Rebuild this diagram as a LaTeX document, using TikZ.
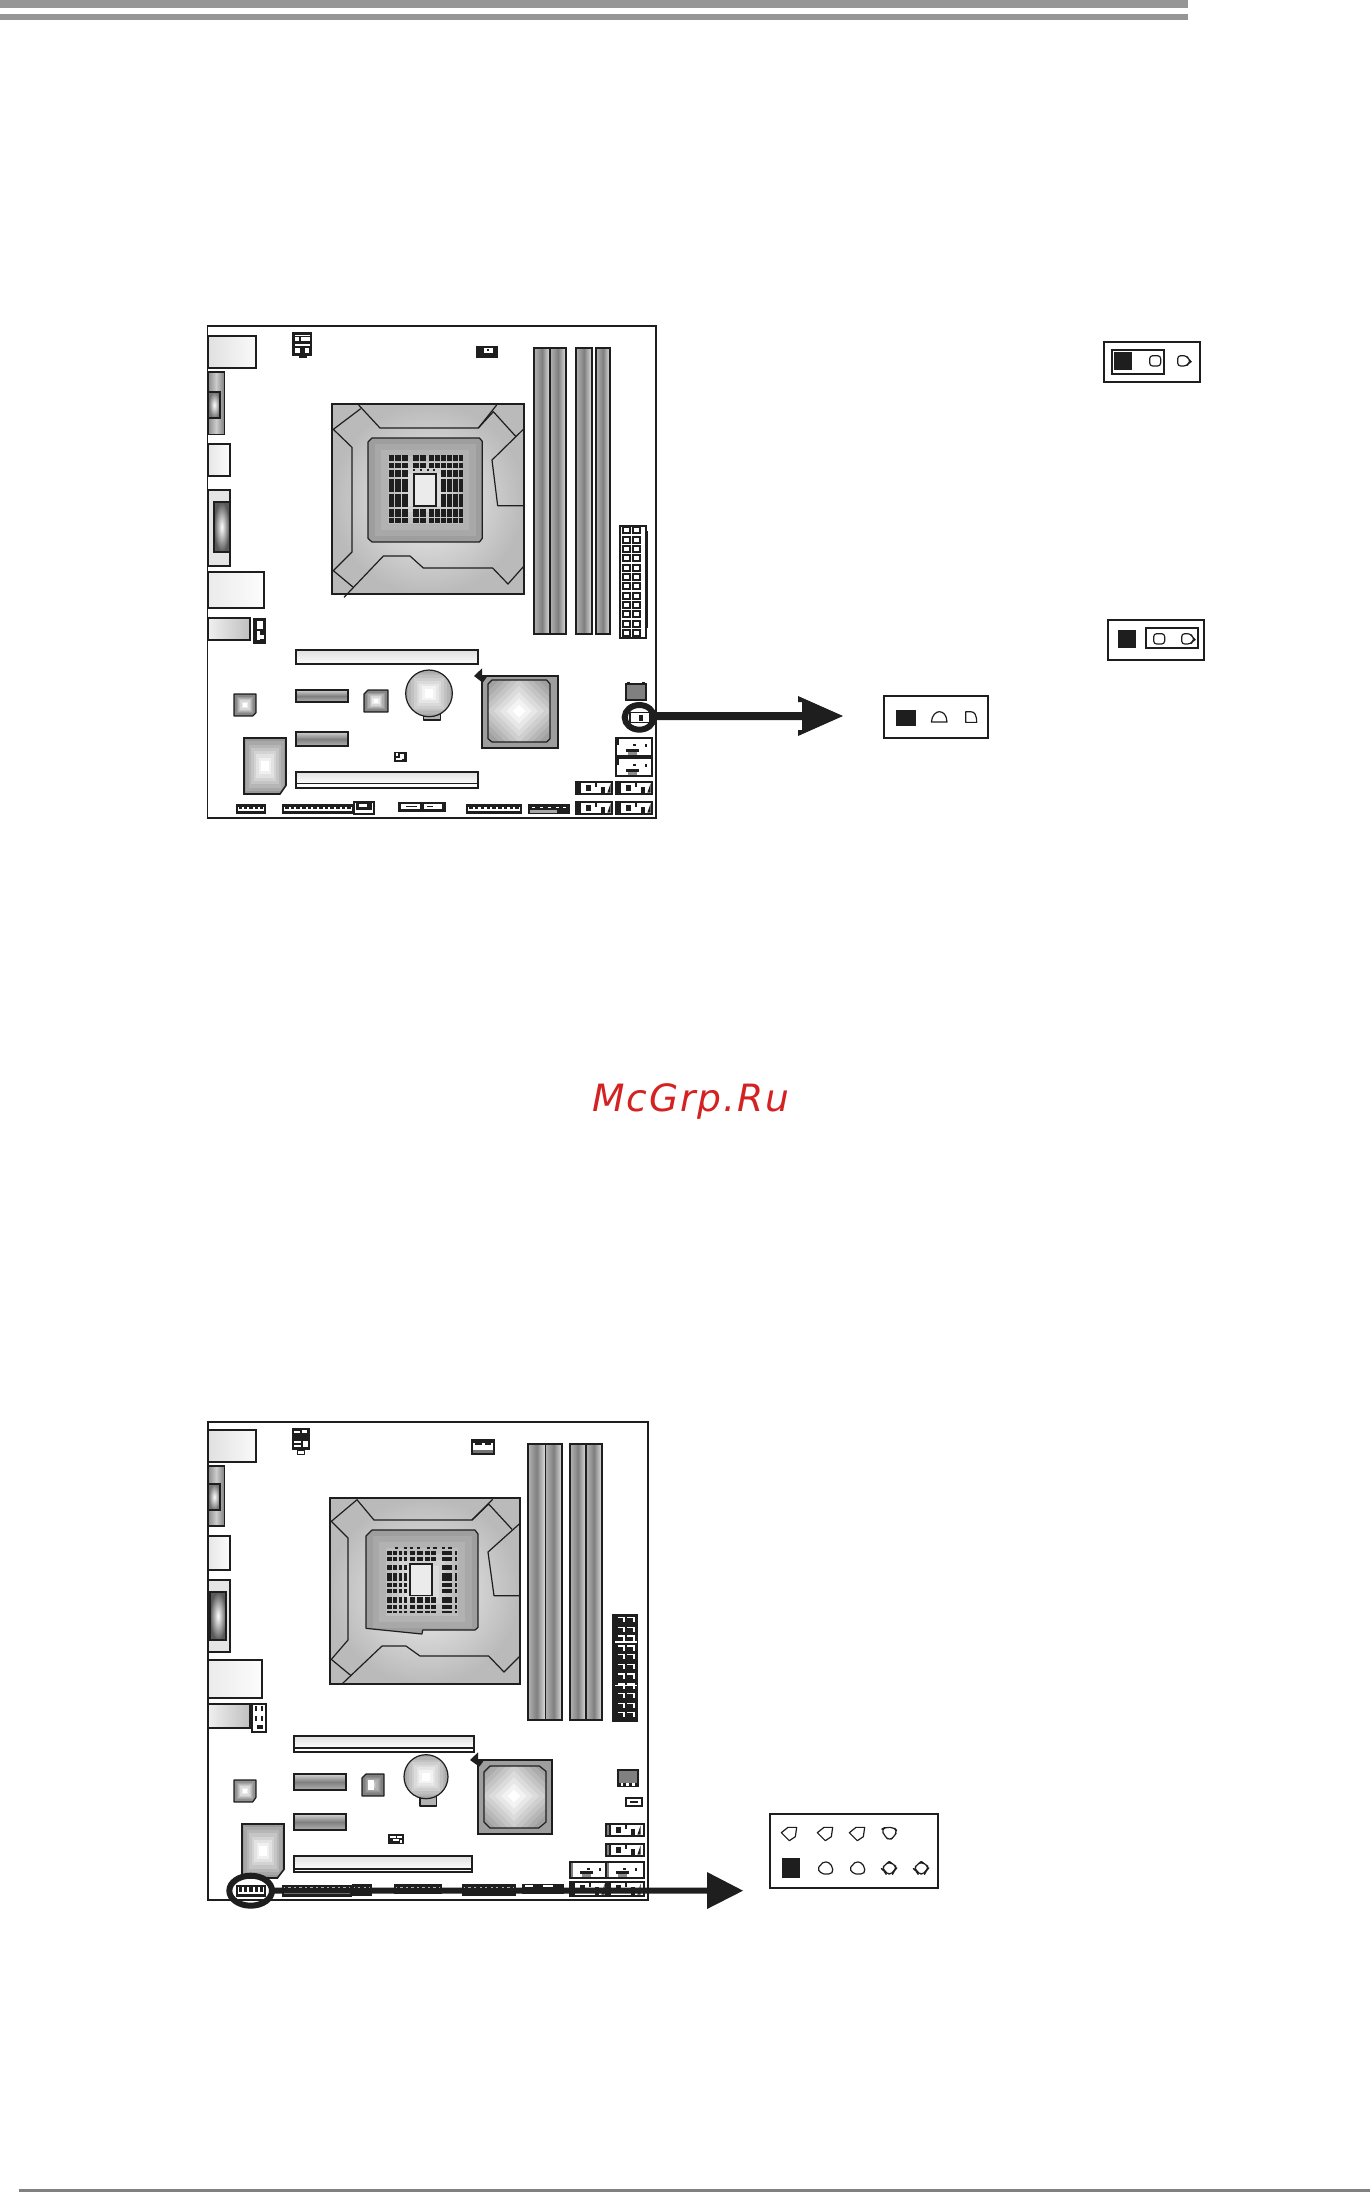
\documentclass[tikz,border=0pt]{standalone}
\usepackage{fontspec}
\newfontfamily\wmfont[LetterSpace=5]{DejaVu Sans}
\definecolor{ink}{HTML}{1E1E1E}
\definecolor{barA}{HTML}{969696}
\definecolor{barB}{HTML}{808080}
\definecolor{wmred}{HTML}{D42222}
\tikzset{
  ol/.style={draw=ink,line width=.8pt,line join=miter},
  thin ol/.style={draw=ink,line width=.6pt,line join=round},
  fine/.style={draw=ink,line width=.5pt,line join=round},
  zoomA/.style={shift={(200,320)},x=.16667pt,y=-.16667pt},
  zoomB/.style={shift={(200,1410)},x=.16667pt,y=-.16667pt},
  zoomC/.style={shift={(860,330)},x=.16667pt,y=-.16667pt},
  zoomD/.style={shift={(740,1790)},x=.16667pt,y=-.16667pt},
  ring/.style={draw=ink,line width=3pt,fill=none},
  shaft/.style={draw=ink,line width=4pt},
  shaftB/.style={draw=ink,line width=3pt},
  head/.style={fill=ink},
  hshade/.style={left color=black!#1,right color=black!12,middle color=black!50},
  ioshade/.style={left color=black!45,right color=black!50,middle color=black!20},
  slotshade/.style={top color=black!18,bottom color=black!30,middle color=black!50},
}
% concentric square gradient
\newcommand{\cgrad}[6]{%
  \foreach \i in {0,...,7}{%
    \pgfmathsetmacro\fr{\i/8.6}%
    \pgfmathsetmacro\gl{#5+(#6-#5)*\i/7}%
    \pgfmathsetmacro\xa{#1+(#3-#1)/2*\fr}%
    \pgfmathsetmacro\xb{#3-(#3-#1)/2*\fr}%
    \pgfmathsetmacro\ya{#2+(#4-#2)/2*\fr}%
    \pgfmathsetmacro\yb{#4-(#4-#2)/2*\fr}%
    \fill[black!\gl] (\xa,\ya) rectangle (\xb,\yb);
  }%
}
% concentric diamond gradient
\newcommand{\dgrad}[5]{%
  \foreach \i in {0,...,9}{%
    \pgfmathsetmacro\rr{#3*(1-\i/10)}%
    \pgfmathsetmacro\gl{#4+(#5-#4)*\i/9}%
    \fill[black!\gl] (#1-\rr,#2) -- (#1,#2-\rr) -- (#1+\rr,#2) -- (#1,#2+\rr) -- cycle;
  }%
}
% dark header with a band of white and pins
\newcommand{\hdr}[5]{%
  \fill[ink] (#1,#2) rectangle (#3,#4);
  \fill[white] (#1+6,#2+8) rectangle (#3-6,#4-8);
  \pgfmathsetmacro\stp{(#3-#1-12)/#5}%
  \foreach \k in {1,...,#5}{%
    \pgfmathsetmacro\px{#1+6+\stp*(\k-.8)}%
    \fill[ink] (\px,#2+8) rectangle (\px+\stp*.6,#4-14);
  }%
}
% white connector with marks
\newcommand{\sata}[4]{%
  \fill[white] (#1,#2) rectangle (#3,#4);
  \draw[ol] (#1,#2) rectangle (#3,#4);
  \fill[black!45] (#1+36,#4-12) rectangle (#1+64,#4-3);
  \fill[ink] (#1+30,#4-20) rectangle (#1+70,#4-13);
  \fill[ink] (#1,#2+4) rectangle (#1+8,#2+22);
  \fill[ink] (#1+50,#2+18) rectangle (#1+60,#2+24);
  \fill[ink] (#1+88,#2+18) rectangle (#1+94,#2+26);
}
\newcommand{\usbh}[4]{%
  \fill[white] (#1,#2) rectangle (#3,#4);
  \draw[ol] (#1,#2) rectangle (#3,#4);
  \fill[ink] (#1+4,#2+4) rectangle (#1+16,#4-4);
  \fill[ink] (#1+30,#2+10) rectangle (#1+44,#4-8);
  \fill[ink] (#1+56,#2+4) rectangle (#1+62,#2+14);
  \fill[ink] (#1+74,#2+14) rectangle (#1+86,#4-4);
  \fill[ink] (#1+94,#4-4) -- (#1+104,#2+4) -- (#1+104,#4-4) -- cycle;
}
\newcommand{\grayflag}[4]{\fill[black!50] (#1,#2) rectangle (#1+10,#4); \draw[ol] (#1,#2) rectangle (#3,#4);}
% DIMM slot
\newcommand{\dimm}[4]{%
  \shade[hshade=30] (#1,#2) rectangle (#3,#4);
  \draw[ol] (#1,#2) rectangle (#3,#4);
}
% ATX row of square pins
\newcommand{\atxcell}[2]{%
  \draw[ink,line width=1pt,fill=white] (#1,#2) rectangle (#1+20,#2+18);
}
\begin{document}
\begin{tikzpicture}[x=.5pt,y=-.5pt]
\useasboundingbox (0,0) rectangle (1370,2192);
\fill[white] (0,0) rectangle (1370,2192);

% page rules
\fill[barA] (0,0) rectangle (1188,8);
\fill[barA] (0,14) rectangle (1188,20);
\fill[barB] (19,2189) rectangle (1370,2192);

% ============ BOARD 1 ============
\begin{scope}[zoomA]
\draw[ol] (22,18) rectangle (1368,1494);
% back panel
\shade[left color=black!12,right color=black!2] (24,48) rectangle (168,144);
\draw[ol] (24,48) rectangle (168,144);
\shade[ioshade] (24,156) rectangle (73,344);
\draw[ol] (24,156) rectangle (73,344);
\shade[inner color=white,outer color=black!55] (26,216) rectangle (60,294);
\draw[ol] (24,216) rectangle (60,294);
\shade[left color=black!10,right color=black!1] (24,372) rectangle (90,468);
\draw[ol] (24,372) rectangle (90,468);
\fill[black!10] (24,510) rectangle (90,738);
\draw[ol] (24,510) rectangle (90,738);
\shade[inner color=white,outer color=black!65] (42,546) rectangle (88,696);
\draw[ol] (42,546) rectangle (88,696);
\shade[left color=black!8,right color=black!1] (24,756) rectangle (192,864);
\draw[ol] (24,756) rectangle (192,864);
\shade[left color=black!6,right color=black!25] (24,894) rectangle (150,960);
\draw[ol] (24,894) rectangle (150,960);
% small jumper next to panel
\fill[ink] (160,894) rectangle (198,972);
\fill[white] (172,902) rectangle (190,926);
\fill[white] (172,932) rectangle (180,960);
\fill[white] (180,944) rectangle (192,956);
% top headers
\fill[ink] (276,36) rectangle (336,108);
\fill[white] (284,44) rectangle (330,48);
\fill[white] (284,52) rectangle (296,64);
\fill[white] (304,52) rectangle (330,64);
\fill[white] (284,72) rectangle (330,78);
\fill[white] (286,84) rectangle (300,100);
\fill[white] (316,84) rectangle (328,100);
\fill[ink] (298,108) rectangle (320,114);
\fill[ink] (828,78) rectangle (894,114);
\fill[white] (852,84) rectangle (878,98);
\fill[ink] (860,86) rectangle (866,92);
% socket
\shade[inner color=black!6,outer color=black!27] (396,252) rectangle (972,822);
\begin{scope}
\clip (516,354) -- (838,354) -- (847,364) -- (847,655) -- (838,666) -- (516,666) -- (504,655) -- (504,366) -- cycle;
\cgrad{504}{354}{847}{666}{38}{10}
\end{scope}
\draw[ol] (396,252) rectangle (972,822);
\draw[thin ol] (476,255) -- (540,324) -- (835,324) -- (890,255);
\draw[thin ol] (835,324) -- (880,275) -- (948,350);
\draw[thin ol] (482,266) -- (400,328) -- (456,382) -- (456,696) -- (400,752) -- (460,802);
\draw[thin ol] (432,832) -- (550,708) -- (630,708) -- (670,744) -- (878,744) -- (924,792) -- (970,740);
\draw[thin ol] (972,326) -- (876,420) -- (893,557) -- (972,557);
\draw[thin ol] (516,354) -- (838,354) -- (847,364) -- (847,655) -- (838,666) -- (516,666) -- (504,655) -- (504,366) -- cycle;
% pins
\foreach \ya/\yb in {405/424,428/444,568/592,595/610}{
  \foreach \xa/\xb in {566/583,586/602,605/624,638/656,660/677,687/702,705/721,724/739,742/757,760/774,776/790}{
    \fill[ink] (\xa,\ya) rectangle (\xb,\yb);
  }
}
\foreach \ya/\yb in {450/470,476/517,523/560}{
  \foreach \xa/\xb in {566/583,586/602,605/624,724/739,742/757,760/774,778/790}{
    \fill[ink] (\xa,\ya) rectangle (\xb,\yb);
  }
}
\foreach \xa in {640,660,680,700}{\fill[ink] (\xa,447) rectangle (\xa+6,452);}
\fill[black!8] (642,462) rectangle (708,558);
\draw[ol] (642,462) rectangle (708,558);
% DIMM
\dimm{1002}{84}{1050}{942}
\dimm{1050}{84}{1098}{942}
\dimm{1128}{84}{1176}{942}
\dimm{1188}{84}{1230}{942}
% ATX
\fill[ink] (1339,632) rectangle (1345,924);
\fill[white] (1260,618) rectangle (1338,954);
\draw[ol] (1260,618) rectangle (1338,954);
\foreach \yy in {622,650,678,706,734,762,790,818,846,874,902,930}{
  \atxcell{1270}{\yy}
  \atxcell{1300}{\yy}
}
% expansion slots
\shade[top color=black!12,bottom color=black!1] (288,990) rectangle (834,1032);
\draw[ol] (288,990) rectangle (834,1032);
\shade[slotshade] (288,1110) rectangle (444,1146);
\draw[ol] (288,1110) rectangle (444,1146);
\shade[slotshade] (288,1236) rectangle (444,1278);
\draw[ol] (288,1236) rectangle (444,1278);
\shade[top color=black!12,bottom color=black!1] (288,1356) rectangle (834,1390);
\draw[ol] (288,1356) rectangle (834,1404);
\draw[ol] (288,1390) -- (834,1390);
% small chips
\begin{scope}
\clip (102,1122) -- (168,1122) -- (168,1178) -- (158,1188) -- (102,1188) -- cycle;
\cgrad{102}{1122}{168}{1188}{55}{0}
\end{scope}
\draw[thin ol] (102,1122) -- (168,1122) -- (168,1178) -- (158,1188) -- (102,1188) -- cycle;
\begin{scope}
\clip (504,1110) -- (564,1110) -- (564,1176) -- (492,1176) -- (492,1122) -- cycle;
\cgrad{492}{1110}{564}{1176}{55}{0}
\end{scope}
\draw[thin ol] (504,1110) -- (564,1110) -- (564,1176) -- (492,1176) -- (492,1122) -- cycle;
% battery
\fill[black!30] (670,1180) rectangle (722,1200);
\draw[thin ol] (670,1180) rectangle (722,1200);
\begin{scope}
\clip (687,1120) circle (70);
\cgrad{617}{1050}{757}{1190}{34}{0}
\end{scope}
\draw[thin ol] (687,1120) circle (70);
% chipset
\fill[black!38] (846,1068) rectangle (1074,1284);
\begin{scope}
\clip (876,1080) -- (1040,1080) -- (1050,1092) -- (1050,1256) -- (1040,1266) -- (876,1266) -- (864,1256) -- (864,1092) -- cycle;
\dgrad{957}{1173}{190}{42}{0}
\end{scope}
\draw[ol] (846,1068) rectangle (1074,1284);
\draw[thin ol] (876,1080) -- (1040,1080) -- (1050,1092) -- (1050,1256) -- (1040,1266) -- (876,1266) -- (864,1256) -- (864,1092) -- cycle;
\fill[ink] (822,1068) -- (846,1045) -- (846,1068) -- (860,1072) -- (848,1088) -- cycle;
% super IO
\begin{scope}
\clip (132,1254) -- (258,1254) -- (258,1396) -- (240,1422) -- (132,1422) -- cycle;
\cgrad{132}{1254}{258}{1422}{40}{0}
\end{scope}
\draw[ol] (132,1254) -- (258,1254) -- (258,1396) -- (240,1422) -- (132,1422) -- cycle;
% small parts
\fill[black!50] (1278,1092) rectangle (1338,1140);
\draw[ol] (1278,1092) rectangle (1338,1140);
\fill[ink] (1282,1087) rectangle (1290,1094);
\fill[ink] (1326,1087) rectangle (1334,1094);
\fill[ink] (582,1296) rectangle (620,1326);
\fill[white] (588,1300) rectangle (594,1308);
\fill[white] (600,1302) rectangle (612,1318);
\fill[white] (588,1314) rectangle (606,1320);
% right connectors
\sata{1248}{1254}{1356}{1308}
\sata{1248}{1314}{1356}{1368}
\usbh{1128}{1386}{1236}{1422}
\usbh{1248}{1386}{1356}{1422}
\usbh{1128}{1446}{1236}{1482}
\usbh{1248}{1446}{1356}{1482}
% bottom row
\hdr{108}{1452}{198}{1482}{5}
\hdr{246}{1452}{462}{1482}{12}
\fill[white] (462,1446) rectangle (522,1482);
\draw[ol] (462,1446) rectangle (522,1482);
\fill[ink] (468,1450) rectangle (516,1470);
\fill[white] (476,1452) rectangle (500,1462);
\fill[ink] (594,1446) rectangle (738,1476);
\fill[white] (604,1452) rectangle (660,1468);
\fill[ink] (618,1458) rectangle (650,1462);
\fill[white] (672,1452) rectangle (726,1468);
\fill[ink] (680,1458) rectangle (700,1462);
\hdr{798}{1452}{966}{1482}{9}
\fill[ink] (984,1452) rectangle (1110,1482);
\fill[black!35] (990,1470) rectangle (1070,1478);
\foreach \xa in {996,1020,1044,1068,1090}{\fill[white] (\xa,1460) rectangle (\xa+8,1465);}
% ringed jumper
\fill[white] (1290,1178) rectangle (1350,1208);
\draw[ol] (1290,1178) rectangle (1350,1208);
\fill[ink] (1316,1186) rectangle (1330,1204);
\draw[ring] (1318,1192) ellipse (44 and 37);
\coordinate (ringA) at (1360,1188);
\end{scope}

% ============ BOARD 2 ============
\begin{scope}[zoomB]
\draw[ol] (24,36) rectangle (1344,1470);
\shade[left color=black!12,right color=black!2] (24,60) rectangle (168,156);
\draw[ol] (24,60) rectangle (168,156);
\shade[ioshade] (24,168) rectangle (73,348);
\draw[ol] (24,168) rectangle (73,348);
\shade[inner color=white,outer color=black!55] (26,222) rectangle (60,300);
\draw[ol] (24,222) rectangle (60,300);
\shade[left color=black!10,right color=black!1] (24,378) rectangle (90,480);
\draw[ol] (24,378) rectangle (90,480);
\fill[black!10] (24,510) rectangle (90,726);
\draw[ol] (24,510) rectangle (90,726);
\shade[inner color=white,outer color=black!65] (30,546) rectangle (78,690);
\draw[ol] (30,546) rectangle (78,690);
\shade[left color=black!8,right color=black!1] (24,750) rectangle (186,864);
\draw[ol] (24,750) rectangle (186,864);
\shade[left color=black!6,right color=black!25] (24,882) rectangle (150,954);
\draw[ol] (24,882) rectangle (150,954);
\fill[white] (156,882) rectangle (198,966);
\draw[ol] (156,882) rectangle (198,966);
\fill[ink] (166,888) rectangle (172,902);
\fill[ink] (184,888) rectangle (190,902);
\fill[ink] (166,918) rectangle (172,932);
\fill[ink] (184,918) rectangle (190,932);
\fill[ink] (172,946) rectangle (190,958);
% top headers
\fill[ink] (276,54) rectangle (330,120);
\draw[fine] (292,120) rectangle (314,132);
\fill[white] (282,64) rectangle (300,70);
\fill[white] (306,60) rectangle (322,70);
\fill[white] (282,94) rectangle (302,100);
\fill[white] (308,94) rectangle (324,112);
\fill[white] (282,106) rectangle (302,112);
\fill[white] (816,90) rectangle (882,132);
\draw[ol] (816,90) rectangle (882,132);
\fill[ink] (820,94) rectangle (878,98);
\fill[ink] (826,100) rectangle (846,106);
\fill[ink] (854,100) rectangle (874,106);
\fill[black!55] (820,120) rectangle (878,130);
% socket
\shade[inner color=black!6,outer color=black!27] (390,264) rectangle (960,822);
\begin{scope}
\clip (516,360) -- (825,360) -- (834,372) -- (834,652) -- (825,660) -- (668,660) -- (666,672) -- (498,655) -- (498,378) -- cycle;
\cgrad{498}{360}{834}{672}{38}{10}
\end{scope}
\draw[ol] (390,264) rectangle (960,822);
\draw[thin ol] (470,268) -- (522,330) -- (816,330) -- (878,268);
\draw[thin ol] (816,330) -- (866,282) -- (936,358);
\draw[thin ol] (470,270) -- (394,334) -- (444,384) -- (444,690) -- (394,748) -- (452,796);
\draw[thin ol] (428,820) -- (546,708) -- (618,708) -- (660,738) -- (866,738) -- (912,786) -- (958,740);
\draw[thin ol] (960,340) -- (864,426) -- (882,557) -- (960,557);
\draw[thin ol] (516,360) -- (825,360) -- (834,372) -- (834,652) -- (825,660) -- (668,660) -- (666,672) -- (498,655) -- (498,378) -- cycle;
% pins
\foreach \ya/\yb in {422/434,442/452,560/578,584/596,602/608}{
  \foreach \xa/\xb in {562/575,580/592,598/606,612/620,630/645,650/668,676/690,694/708,725/740,742/757,765/771}{
    \fill[ink] (\xa,\ya) rectangle (\xb,\yb);
  }
}
\foreach \ya/\yb in {464/480,490/512,520/532,538/550}{
  \foreach \xa/\xb in {562/575,580/592,598/606,612/620,725/740,742/757,765/771}{
    \fill[ink] (\xa,\ya) rectangle (\xb,\yb);
  }
}
\foreach \xa in {585,612,630,650,680,700,725,745}{\fill[ink] (\xa,412) rectangle (\xa+10,417);}
\fill[black!8] (630,462) rectangle (696,556);
\draw[ol] (630,462) rectangle (696,556);
% DIMM
\dimm{984}{102}{1036}{930}
\dimm{1036}{102}{1086}{930}
\dimm{1110}{102}{1158}{930}
\dimm{1158}{102}{1206}{930}
% ATX
\fill[ink] (1236,612) rectangle (1314,936);
\foreach \yy in {620,650,676,706,732,762,790,820,848,878,906}{
  \fill[white] (1254,\yy) rectangle (1276,\yy+4);
  \fill[white] (1282,\yy) rectangle (1304,\yy+4);
  \fill[white] (1270,\yy) rectangle (1276,\yy+16);
  \fill[white] (1298,\yy) rectangle (1304,\yy+16);
}
\fill[white] (1246,694) rectangle (1310,698);
\fill[white] (1246,824) rectangle (1310,828);
% slots
\shade[top color=black!12,bottom color=black!1] (282,978) rectangle (822,1014);
\draw[ol] (282,978) rectangle (822,1026);
\draw[ol] (282,1014) -- (822,1014);
\shade[slotshade] (282,1092) rectangle (438,1140);
\draw[ol] (282,1092) rectangle (438,1140);
\shade[slotshade] (282,1212) rectangle (438,1260);
\draw[ol] (282,1212) rectangle (438,1260);
\shade[top color=black!12,bottom color=black!1] (282,1338) rectangle (816,1376);
\draw[ol] (282,1338) rectangle (816,1386);
\draw[ol] (282,1376) -- (816,1376);
% small chips
\begin{scope}
\clip (102,1110) -- (168,1110) -- (168,1162) -- (158,1176) -- (102,1176) -- cycle;
\cgrad{102}{1110}{168}{1176}{50}{0}
\end{scope}
\draw[thin ol] (102,1110) -- (168,1110) -- (168,1162) -- (158,1176) -- (102,1176) -- cycle;
\begin{scope}
\clip (498,1092) -- (552,1092) -- (552,1158) -- (486,1158) -- (486,1104) -- cycle;
\cgrad{486}{1092}{552}{1158}{55}{20}
\end{scope}
\fill[white] (504,1110) rectangle (522,1140);
\draw[thin ol] (498,1092) -- (552,1092) -- (552,1158) -- (486,1158) -- (486,1104) -- cycle;
% battery
\fill[black!30] (660,1158) rectangle (710,1188);
\draw[thin ol] (660,1158) rectangle (710,1188);
\begin{scope}
\clip (678,1100) circle (66);
\cgrad{612}{1034}{744}{1166}{34}{0}
\end{scope}
\draw[thin ol] (678,1100) circle (66);
% chipset
\fill[black!38] (834,1050) rectangle (1056,1272);
\begin{scope}
\clip (870,1068) -- (1018,1068) -- (1038,1084) -- (1038,1236) -- (1016,1254) -- (870,1254) -- (852,1236) -- (852,1086) -- cycle;
\dgrad{942}{1158}{190}{42}{0}
\end{scope}
\draw[ol] (834,1050) rectangle (1056,1272);
\draw[thin ol] (870,1068) -- (1018,1068) -- (1038,1084) -- (1038,1236) -- (1016,1254) -- (870,1254) -- (852,1236) -- (852,1086) -- cycle;
\fill[ink] (810,1050) -- (834,1027) -- (834,1050) -- (850,1054) -- (838,1070) -- cycle;
% super IO
\begin{scope}
\clip (126,1242) -- (252,1242) -- (252,1378) -- (232,1404) -- (126,1404) -- cycle;
\cgrad{126}{1242}{252}{1404}{40}{0}
\end{scope}
\draw[ol] (126,1242) -- (252,1242) -- (252,1378) -- (232,1404) -- (126,1404) -- cycle;
% small parts
\fill[black!50] (1254,1080) rectangle (1314,1128);
\draw[ol] (1254,1080) rectangle (1314,1128);
\fill[ink] (1254,1118) rectangle (1314,1130);
\foreach \xa in {1262,1278,1296}{\fill[white] (\xa,1120) rectangle (\xa+8,1128);}
\fill[white] (1278,1164) rectangle (1326,1188);
\draw[ol] (1278,1164) rectangle (1326,1188);
\fill[ink] (1290,1174) rectangle (1314,1178);
\fill[ink] (564,1272) rectangle (612,1302);
\fill[white] (570,1278) rectangle (588,1284);
\fill[white] (592,1278) rectangle (606,1284);
\fill[white] (580,1288) rectangle (596,1294);
\fill[white] (600,1290) rectangle (606,1298);
% right connectors
\usbh{1218}{1242}{1332}{1278}
\grayflag{1218}{1242}{1332}{1278}
\usbh{1218}{1302}{1332}{1338}
\grayflag{1218}{1302}{1332}{1338}
\sata{1110}{1356}{1218}{1404}
\grayflag{1110}{1356}{1218}{1404}
\sata{1218}{1356}{1332}{1404}
\grayflag{1218}{1356}{1332}{1404}
\usbh{1110}{1416}{1218}{1458}
\usbh{1218}{1416}{1332}{1458}
% bottom row
\hdr{108}{1424}{198}{1460}{5}
\hdr{246}{1424}{456}{1460}{12}
\hdr{456}{1422}{516}{1458}{3}
\hdr{582}{1422}{726}{1452}{8}
\hdr{786}{1422}{948}{1458}{9}
\fill[ink] (966,1422) rectangle (1092,1452);
\fill[white] (976,1426) rectangle (1000,1432);
\fill[white] (1030,1426) rectangle (1060,1432);
% ring
\draw[ring] (152,1442) ellipse (64 and 45);
\coordinate (ringB) at (215,1442);
\end{scope}

% ============ ARROWS ============
\coordinate (baseA) at (804,716);
\coordinate (tipA) at (843,716);
\draw[shaft] (ringA) -- (baseA);
\fill[head] (798,696) -- (tipA) -- (798,736) -- (798,730) -- (802,730) -- (802,702) -- (798,702) -- cycle;

\coordinate (baseB) at (712,1890.67);
\coordinate (tipB) at (743,1890.67);
\draw[shaftB] (ringB) -- (baseB);
\fill[head] (707,1872) -- (tipB) -- (707,1909) -- cycle;

% ============ JUMPER BOXES ============
\begin{scope}[zoomC]
\draw[ol] (732,36) rectangle (1020,156);
\draw[thin ol,line join=miter] (756,60) rectangle (912,132);
\fill[ink] (762,66) rectangle (816,120);
\draw[thin ol,rounded corners=1.5pt] (869,77) rectangle (902,108);
\draw[thin ol,rounded corners=1.5pt] (953,77) -- (980,77) -- (986,88) -- (993,95) -- (986,99) -- (980,108) -- (953,108) -- cycle;

\draw[ol] (744,870) rectangle (1032,990);
\fill[ink] (774,900) rectangle (828,954);
\draw[thin ol,line join=miter] (858,894) rectangle (1014,954);
\draw[thin ol,rounded corners=1.5pt] (881,911) rectangle (914,942);
\draw[thin ol,rounded corners=1.5pt] (965,911) -- (992,911) -- (998,922) -- (1005,929) -- (998,933) -- (992,942) -- (965,942) -- cycle;

\draw[ol] (72,1098) rectangle (384,1224);
\fill[ink] (108,1140) rectangle (168,1188);
\draw[thin ol] (214,1176) .. controls (216,1155) and (228,1145) .. (238,1145) .. controls (250,1145) and (260,1155) .. (261,1176) -- cycle;
\draw[thin ol] (317,1145) -- (332,1145) .. controls (344,1145) and (350,1155) .. (350,1177) -- (317,1177) -- cycle;
\end{scope}

\begin{scope}[zoomD]
\draw[ol] (90,72) rectangle (594,294);
\foreach \xx in {148,256,352}{
  \draw[thin ol] (\xx-24,128) -- (\xx-4,112) -- (\xx+22,112) -- (\xx+18,140) -- (\xx,152) -- cycle;
}
\draw[thin ol,rounded corners=2pt] (424,118) -- (436,112) -- (462,112) -- (472,124) -- (462,140) -- (448,152) -- (434,138) -- cycle;
\fill[ink] (126,204) rectangle (180,264);
\foreach \xx in {256,352}{
  \draw[thin ol,rounded corners=1pt] (\xx-24,236) -- (\xx-4,214) -- (\xx+16,220) -- (\xx+24,244) -- (\xx+16,252) -- (\xx-10,252) -- cycle;
}
\foreach \xx in {448,544}{
  \draw[thin ol,rounded corners=2pt] (\xx-24,236) -- (\xx-10,222) -- (\xx,214) -- (\xx+10,222) -- (\xx+24,232) -- (\xx+14,242) -- (\xx+10,252) -- (\xx-10,252) -- (\xx-14,242) -- cycle;
}
\end{scope}

% watermark
\node[anchor=base west,inner sep=0pt,text=wmred,font=\wmfont\itshape\fontsize{18.8pt}{20pt}\selectfont] (watermark) at (592,1111) {McGrp.Ru};
\end{tikzpicture}
\end{document}
